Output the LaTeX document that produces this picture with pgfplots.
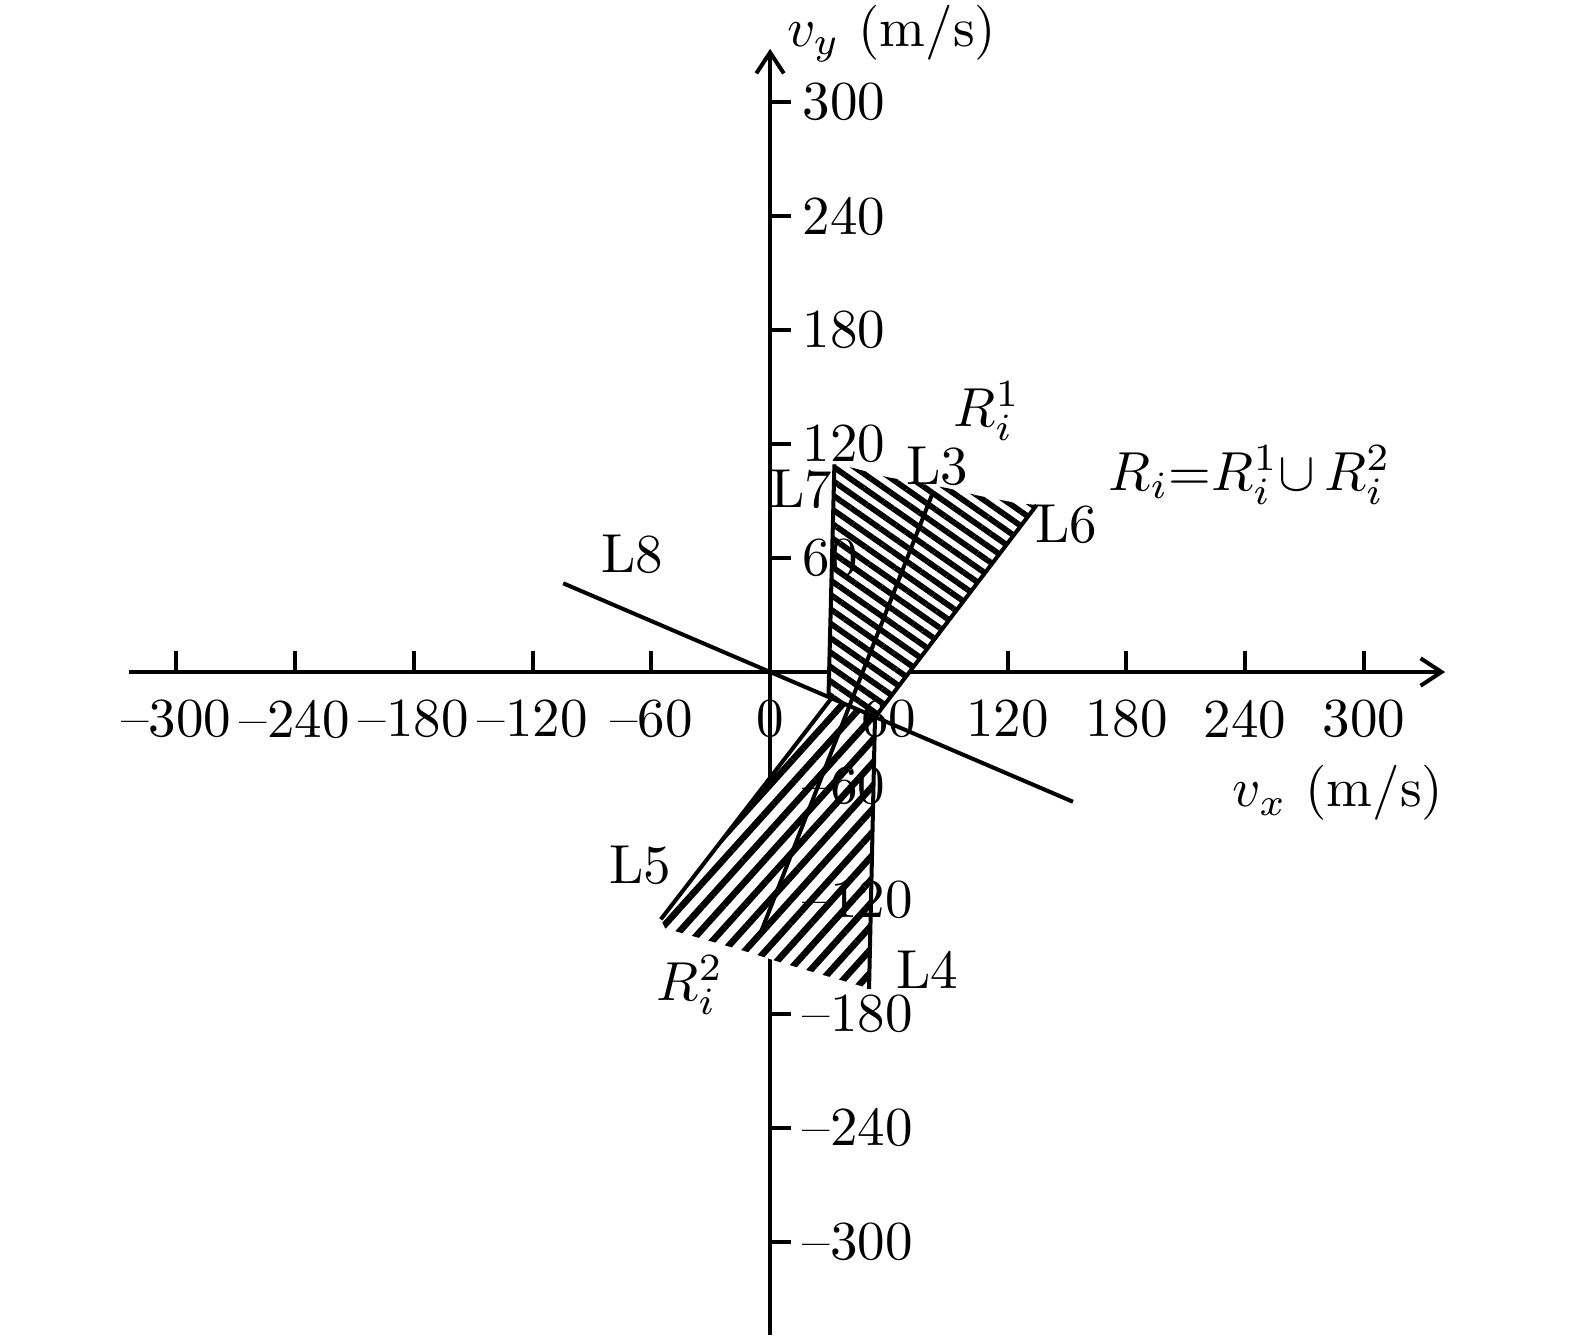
\documentclass[border=0pt]{standalone}
\usepackage{pgfplots}
\pgfplotsset{compat=1.18}
\usetikzlibrary{patterns.meta,arrows.meta}
\pgfplotsset{
  /pgfplots/layers/labelsontop/.define layer set={
    axis background,axis grid,axis ticks,axis lines,main,
    axis tick labels,axis descriptions,axis foreground
  }{/pgfplots/layers/standard},
}

\begin{document}
\begin{tikzpicture}
\begin{axis}[
  x=0.36pt, y=0.3455pt,
  axis lines=middle,
  xmin=-324, xmax=341, ymin=-349, ymax=328,
  set layers=labelsontop,
  axis line style={line width=0.73pt, -{Straight Barb[length=3.8pt,width=5pt]}},
  every tick/.style={line width=0.73pt, black},
  major tick length=3.8pt,
  tick align=inside,
  xtick={-300,-240,...,300},
  xticklabels={--300,--240,--180,--120,--60,0,60,120,180,240,300},
  ytick={-300,-240,-180,-120,-60,60,120,180,240,300},
  yticklabels={--300,--240,--180,--120,--60,60,120,180,240,300},
  hide obscured x ticks=false,
  hide obscured y ticks=false,
  xticklabel style={yshift=-1.6pt},
  yticklabel style={anchor=west, xshift=2.4pt},
  clip=false,
]
% bounding box of the whole figure
\path (axis cs:-389,-352.1) rectangle (axis cs:406.6,353.7);

% region R_i^1
\addplot[draw=none, preaction={fill=white},
  pattern={Lines[angle=-35, distance=2.15pt, line width=1.05pt]}]
  coordinates {(29.5,-13.2) (32.5,109.3) (41.9,107.4) (59.1,102.6) (89.4,96.8)
               (106.1,92.6) (124.7,88.9) (134.7,87.9) (53,-23.8)} -- cycle;

% region R_i^2
\addplot[draw=none, preaction={fill=white},
  pattern={Lines[angle=48, distance=2.8pt, line width=1.2pt]}]
  coordinates {(31,-13.8) (53,-23.8) (50,-166.8) (47.1,-165.6) (26.9,-159.5)
               (6.7,-153.3) (-11.8,-147.2) (-32.0,-141.1) (-53.0,-134.9)
               (-55.2,-130.2)} -- cycle;

% boundary lines
\addplot[black, line width=0.73pt] coordinates {(-104.5,46.7) (153,-68.3)}; % L8
\addplot[black, line width=0.73pt] coordinates {(32.5,109.3) (29.5,-13.2)}; % L7
\addplot[black, line width=0.73pt] coordinates {(134.7,87.9) (53,-23.8)};   % L6
\addplot[black, line width=0.73pt] coordinates {(82.2,94.4) (-4.2,-135.8)}; % L3
\addplot[black, line width=0.73pt] coordinates {(53,-23.8) (50,-166.8)};    % L4
\addplot[black, line width=0.73pt] coordinates {(31,-13.8) (-55.2,-130.2)}; % L5

% labels
\node[inner sep=0pt] at (axis cs:-69.7,62.1) {L8};
\node[inner sep=0pt] at (axis cs:15.7,96.3) {L7};
\node[inner sep=0pt] at (axis cs:84.3,108.4) {L3};
\node[inner sep=0pt] at (axis cs:149.5,77.9) {L6};
\node[inner sep=0pt] at (axis cs:-65.7,-102) {L5};
\node[inner sep=0pt] at (axis cs:79.3,-156.8) {L4};
\node[inner sep=0pt] at (axis cs:109.6,137.4) {$R_i^1$};
\node[inner sep=0pt] at (axis cs:-40.4,-164.7) {$R_i^2$};
\node[inner sep=0pt] at (axis cs:242.4,103.7) {$R_i{=}R_i^1{\cup}\,R_i^2$};
\node[inner sep=0pt] at (axis cs:286.9,-63.7) {$v_x$ (m/s)};
\node[inner sep=0pt] at (axis cs:61.4,336.2) {$v_y$ (m/s)};
\end{axis}
\end{tikzpicture}
\end{document}
